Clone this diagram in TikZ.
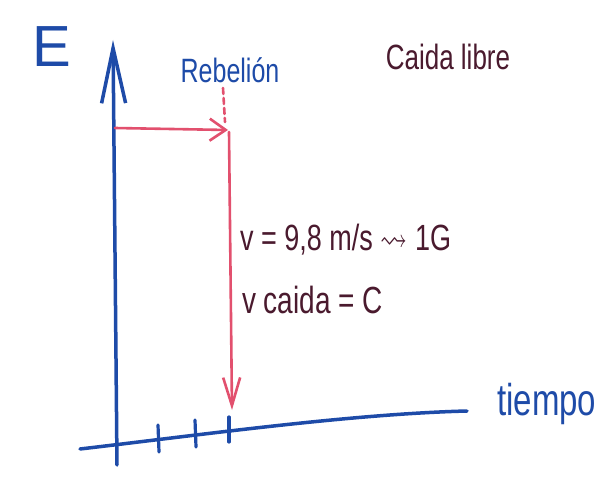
\documentclass[tikz,border=0pt]{standalone}
\usepackage{amssymb}
\usepackage{graphicx}
\usepackage{fontspec}
\setmainfont{Liberation Sans}
\usetikzlibrary{arrows.meta}
\definecolor{bl}{HTML}{1E4BA8}
\definecolor{rd}{HTML}{E2506E}
\definecolor{mr}{HTML}{4A1A2E}
\newcommand{\tallA}[1]{\scalebox{1}[1.35]{#1}}
\begin{document}
\begin{tikzpicture}[x=1pt,y=-1pt,
  axis/.style={draw=bl, line width=3.5pt, line cap=round},
  redline/.style={draw=rd, line width=2.6pt, line cap=round},
  tick/.style={draw=bl, line width=3.2pt, line cap=round},
  bluetxt/.style={text=bl, inner sep=0pt},
  marontxt/.style={text=mr, inner sep=0pt}]
\useasboundingbox[fill=white] (0,0) rectangle (600,486);
% axis coordinates
\coordinate (vb) at (117,465);
\coordinate (vt) at (113,40);
\coordinate (hl) at (80,449);
\coordinate (hr) at (467,411);
\coordinate (t1a) at (158,425); \coordinate (t1b) at (159,452);
\coordinate (t2a) at (195,420); \coordinate (t2b) at (196,447);
\coordinate (t3a) at (229,417); \coordinate (t3b) at (229,442);
% red coordinates
\coordinate (rs) at (115,128);
\coordinate (rc) at (228,130);
\coordinate (rt) at (229,132);
\coordinate (rb) at (232,410);
\coordinate (da) at (223,88);
\coordinate (db) at (225,122);
% axes
\draw[axis, -{Straight Barb[length=55pt,width=24pt]}] (vb) -- (vt);
\draw[axis] (hl) .. controls (200,435) and (350,414) .. (hr);
\draw[tick] (t1a) -- (t1b);
\draw[tick] (t2a) -- (t2b);
\draw[tick] (t3a) -- (t3b);
% red arrows
\draw[redline, -{Straight Barb[length=16pt,width=22pt]}] (rs) -- (rc);
\draw[redline, -{Straight Barb[length=28pt,width=17pt]}] (rt) -- (rb);
\draw[redline, dashed, dash pattern=on 6pt off 4pt] (da) -- (db);
% labels
\node[bluetxt, font=\fontsize{58}{58}\selectfont] (E) at (52,47) {E};
\node[bluetxt, font=\fontsize{25}{25}\selectfont] (reb) at (230,70) {\tallA{Rebelión}};
\node[marontxt, font=\fontsize{26}{26}\selectfont] (cl) at (448,57) {\tallA{Caida libre}};
\node[marontxt, anchor=west, font=\fontsize{27}{27}\selectfont] (eq1) at (240,240) {\tallA{v = 9,8 m/s $\rightsquigarrow$ 1G}};
\node[marontxt, anchor=west, font=\fontsize{28}{28}\selectfont] (eq2) at (242,300) {\tallA{v caida = C}};
\node[bluetxt, anchor=west, font=\fontsize{33}{33}\selectfont] (tiempo) at (497,404) {\tallA{tiempo}};
\end{tikzpicture}
\end{document}
